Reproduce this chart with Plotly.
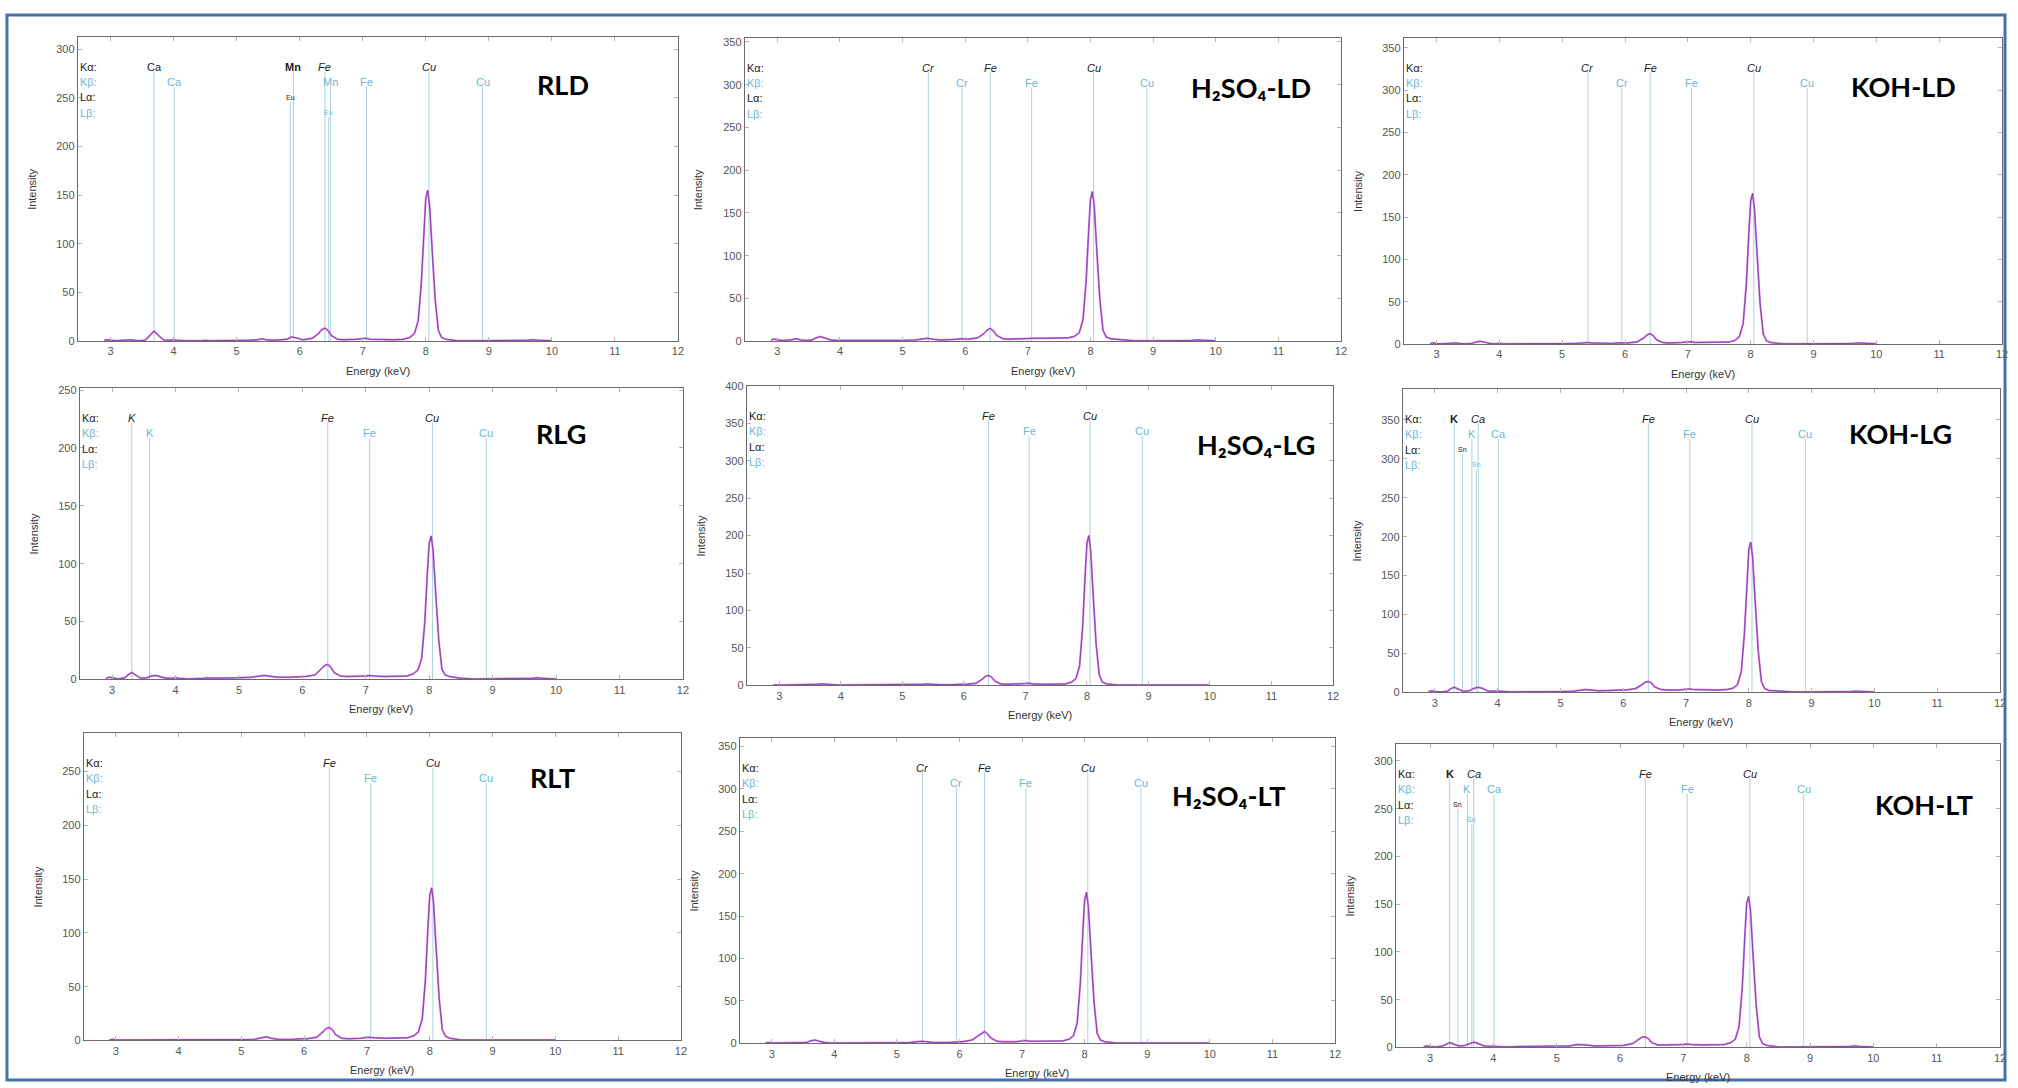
import plotly.graph_objects as go

W, H = 2018, 1088
FONT = "Liberation Sans, Arial, sans-serif"
NAME_FONT = "Lato, Noto Sans, sans-serif"

# ---------------- data ----------------
ENERGY = [2.90, 2.95, 3.00, 3.10, 3.20, 3.25, 3.31, 3.37, 3.45, 3.55,
          3.62, 3.69, 3.76, 3.85, 3.95, 4.00, 4.05, 4.20, 4.45, 4.50,
          4.55, 4.80, 5.00, 5.20, 5.33, 5.40, 5.47, 5.60, 5.80, 5.87,
          5.94, 6.05, 6.20, 6.30, 6.35, 6.40, 6.45, 6.50, 6.60, 6.70,
          6.90, 7.00, 7.05, 7.12, 7.30, 7.50, 7.65, 7.75, 7.82, 7.88,
          7.93, 7.97, 8.00, 8.03, 8.06, 8.10, 8.15, 8.20, 8.25, 8.32,
          8.40, 8.50, 8.70, 9.00, 9.50, 9.62, 9.70, 9.78, 10.00]

RLD = [1, 1.5, 1, 0.5, 1, 1.5, 1.5, 1, 0.5, 1,
       6, 10.5, 6, 1, 1, 1.5, 1, 0.5, 0.5, 1,
       0.5, 0.5, 1, 1, 1.5, 2.5, 1.5, 1, 2, 4.5,
       3.5, 1.5, 3, 8, 12, 13.5, 11, 6, 2, 1.5,
       2, 3, 3, 2, 1.5, 1.5, 2, 4, 8, 21,
       61, 114, 147, 155, 140, 95, 42, 11, 4, 2,
       1.5, 0.5, 0.5, 0.5, 0.5, 1, 1.5, 1, 0.5]
H2SO4_LD = [1.5, 2.5, 1.5, 1, 1.5, 2.5, 3, 1.5, 1, 1.5,
            4, 5.5, 4, 1.5, 1, 1, 1, 0.5, 1, 1,
            1, 1, 1, 1.5, 2.5, 3.5, 2.5, 1.5, 2, 2.5,
            3, 2.5, 4, 9, 13, 15, 12, 7, 3, 2.5,
            3, 4, 4, 3.5, 3.5, 3.5, 4, 6, 10, 25,
            70, 128, 166, 175, 158, 107, 48, 13, 5, 3,
            2.5, 1, 0.5, 0.5, 0.5, 1, 1.5, 1, 0.5]
KOH_LD = [1, 1.5, 1, 0.5, 1, 1.5, 1.5, 1, 0.5, 1,
          2.5, 3.5, 2.5, 1, 0.5, 1, 0.5, 0.5, 0.5, 0.5,
          0.5, 0.5, 1, 1, 1.5, 2, 1.5, 1, 1, 1.5,
          1.5, 1.5, 3, 7.5, 11, 12.5, 10, 5.5, 2, 1.5,
          2, 3, 3, 2, 2, 2, 2.5, 4.5, 9, 24,
          70, 130, 169, 178, 160, 109, 48, 12, 4, 2,
          1.5, 0.5, 0.5, 0.5, 0.5, 1, 1.5, 1, 0.5]
RLG = [1, 2, 1.5, 0.5, 1.5, 4, 6, 4, 1, 1.5,
       3, 3.5, 2.5, 1, 1, 1.5, 1, 0.5, 1, 1.5,
       1, 1, 1.5, 2, 3, 3.5, 3, 2, 2, 2,
       2, 2.5, 4, 9, 12, 13, 10.5, 6, 3, 2.5,
       2.5, 3, 3.5, 3, 2.5, 2.5, 3, 5, 8, 18,
       50, 92, 118, 124, 112, 76, 34, 9, 4, 2.5,
       2, 1, 0.5, 0.5, 0.5, 1, 1.5, 1, 0.5]
H2SO4_LG = [0.5, 1, 0.5, 0.5, 0.5, 0.5, 0.5, 0.5, 0.5, 0.5,
            1.5, 2, 1.5, 0.5, 0.5, 0.5, 0.5, 0.5, 0.5, 1,
            0.5, 0.5, 0.5, 1, 1.5, 2, 1.5, 1, 1, 1.5,
            1.5, 1.5, 3, 8.5, 12, 13.5, 11, 6, 2, 1.5,
            1.5, 2.5, 3, 2, 1.5, 1.5, 2, 4.5, 9, 26,
            78, 146, 190, 200, 180, 122, 54, 14, 4.5, 2,
            1.5, 0.5, 0.5, 0.5, 0.5, 0.5, 1, 0.5, 0.5]
KOH_LG = [1, 2, 1, 0.5, 1.5, 4.5, 6.5, 4.5, 1.5, 2,
          5, 6.5, 5, 1.5, 1.5, 2, 1.5, 0.5, 0.5, 1,
          0.5, 0.5, 1, 1.5, 3, 3.5, 3, 2, 2.5, 3,
          3, 3, 5, 10, 13, 14, 12, 7, 3.5, 3,
          3, 4, 4.5, 3.5, 3, 3, 3.5, 5.5, 10, 27,
          76, 141, 184, 193, 174, 118, 53, 14, 5, 2.5,
          2, 1, 0.5, 0.5, 0.5, 1, 1.5, 1, 0.5]
RLT = [0.5, 1, 0.5, 0.5, 0.5, 0.5, 0.5, 0.5, 0.5, 0.5,
       0.5, 1, 0.5, 0.5, 0.5, 0.5, 0.5, 0.5, 0.5, 0.5,
       0.5, 0.5, 0.5, 1, 2.5, 3.5, 2, 1, 1, 1.5,
       1.5, 1.5, 3, 8, 11, 12, 10, 5.5, 2, 1.5,
       2, 3, 3, 2.5, 2, 2, 2.5, 4.5, 8, 20,
       56, 104, 135, 142, 128, 87, 39, 10, 4, 2,
       1.5, 0.5, 0.5, 0.5, 0.5, 0.5, 1, 0.5, 0.5]
H2SO4_LT = [0.5, 1, 0.5, 0.5, 0.5, 0.5, 0.5, 0.5, 0.5, 1,
            3, 4, 2.5, 1, 0.5, 0.5, 0.5, 0.5, 0.5, 0.5,
            0.5, 0.5, 1, 1, 2, 2.5, 2, 1, 1, 1.5,
            2, 2, 4, 9, 12.5, 14, 11, 6.5, 2.5, 2,
            2, 3, 3.5, 2.5, 2.5, 2.5, 3, 5, 9, 24,
            70, 130, 169, 178, 160, 109, 48, 12, 4, 2,
            1.5, 0.5, 0.5, 0.5, 0.5, 0.5, 1, 0.5, 0.5]
KOH_LT = [1, 1.5, 1, 0.5, 1.5, 3.5, 5, 3.5, 1.5, 2,
          4, 5.5, 4, 1.5, 1, 1.5, 1, 0.5, 1, 1,
          1, 1, 1, 1.5, 3, 3, 2.5, 1.5, 1.5, 2,
          2, 2, 4, 9, 11, 11, 9, 5, 2.5, 2.5,
          2.5, 3, 3.5, 3, 2.5, 2.5, 3, 5, 8.5, 22,
          63, 116, 151, 158, 143, 97, 44, 11, 4, 2,
          1.5, 0.5, 0.5, 0.5, 0.5, 1, 1.5, 1, 0.5]

PANEL_NAMES = ["RLD", "H₂SO₄-LD", "KOH-LD",
               "RLG", "H₂SO₄-LG", "KOH-LG",
               "RLT", "H₂SO₄-LT", "KOH-LT"]
SPECTRA = [RLD, H2SO4_LD, KOH_LD, RLG, H2SO4_LG, KOH_LG, RLT, H2SO4_LT, KOH_LT]
Y_MAX = [313, 355, 362, 252, 400, 390, 286, 360, 318]
X_MIN = [2.48, 2.48, 2.48, 2.49, 2.47, 2.49, 2.49, 2.49, 2.46]
X_MAX = 12

ROW_LABELS = ["Kα:", "Kβ:", "Lα:", "Lβ:"]

# element markers: (energy keV, row 0=Kα 1=Kβ 2=Lα 3=Lβ, label, style)
EL_RLD = [(3.69, 0, "Ca", "r"), (5.90, 0, "Mn", "b"), (6.40, 0, "Fe", "i"), (8.05, 0, "Cu", "i"),
          (4.01, 1, "Ca", "r"), (6.49, 1, "Mn", "r"), (7.06, 1, "Fe", "r"), (8.90, 1, "Cu", "r"),
          (5.85, 2, "Eu", "s"), (6.46, 3, "Eu", "s")]
EL_CR_FE_CU = [(5.41, 0, "Cr", "i"), (6.40, 0, "Fe", "i"), (8.05, 0, "Cu", "i"),
               (5.95, 1, "Cr", "r"), (7.06, 1, "Fe", "r"), (8.90, 1, "Cu", "r")]
EL_RLG = [(3.31, 0, "K", "i"), (6.40, 0, "Fe", "i"), (8.05, 0, "Cu", "i"),
          (3.59, 1, "K", "r"), (7.06, 1, "Fe", "r"), (8.90, 1, "Cu", "r")]
EL_FE_CU = [(6.40, 0, "Fe", "i"), (8.05, 0, "Cu", "i"),
            (7.06, 1, "Fe", "r"), (8.90, 1, "Cu", "r")]
EL_KOH = [(3.31, 0, "K", "b"), (3.69, 0, "Ca", "i"), (6.40, 0, "Fe", "i"), (8.05, 0, "Cu", "i"),
          (3.59, 1, "K", "r"), (4.01, 1, "Ca", "r"), (7.06, 1, "Fe", "r"), (8.90, 1, "Cu", "r"),
          (3.44, 2, "Sn", "s"), (3.66, 3, "Sn", "s")]
ELEMENTS = [EL_RLD, EL_CR_FE_CU, EL_CR_FE_CU, EL_RLG, EL_FE_CU, EL_KOH,
            EL_FE_CU, EL_CR_FE_CU, EL_KOH]

# ---------------- layout geometry (pixels: left, right, top, bottom) ----------------
BOX = [(78, 680, 31, 339), (747, 1345, 32, 339), (1408, 2008, 32, 342),
       (80, 685, 386, 681), (749, 1337, 384, 687), (1407, 2006, 387, 694),
       (84, 683, 735, 1046), (742, 1339, 740, 1049), (1400, 2006, 746, 1053)]
NAME_POS = [(565, 79), (1255, 82), (1909, 81),
            (563, 432), (1260, 443), (1906, 432),
            (554, 780), (1232, 798), (1930, 807)]
ROW_OFF = [30.5, 46, 61.5, 77]

DARK = "#1a1a1a"
BLUE = "#6cb6d4"
LINE_BLUE = "#a9d3de"

fig = go.Figure()
annotations = []
shapes = []

for i in range(9):
    L, R, T, B = BOX[i]
    n = i + 1
    xs = "" if n == 1 else str(n)
    ph = B - T
    fig.add_trace(go.Scatter(x=ENERGY, y=SPECTRA[i], mode="lines",
                             line=dict(color="#d27cea", width=2.0),
                             xaxis="x" + xs, yaxis="y" + xs, showlegend=False, hoverinfo="skip"))
    fig.add_trace(go.Scatter(x=ENERGY, y=SPECTRA[i], mode="lines",
                             line=dict(color="#7a3598", width=0.8),
                             xaxis="x" + xs, yaxis="y" + xs, showlegend=False))
    axis_common = dict(ticks="inside", ticklen=4, tickcolor="#b5b5b5", showline=True,
                       linecolor="#6a6a6a", linewidth=1, mirror="allticks", showgrid=False,
                       zeroline=False, tickfont=dict(size=11, color="#555", family=FONT))
    fig.update_layout(**{
        "xaxis" + xs: dict(domain=[L / W, R / W], range=[X_MIN[i], X_MAX], anchor="y" + xs,
                           tick0=3, dtick=1, **axis_common),
        "yaxis" + xs: dict(domain=[1 - B / H, 1 - T / H], range=[0, Y_MAX[i]], anchor="x" + xs,
                           tick0=0, dtick=50, **axis_common),
    })
    xd = "x" + xs + " domain"
    yd = "y" + xs + " domain"
    # row legend
    for r, lab in enumerate(ROW_LABELS):
        annotations.append(dict(x=0, y=1 - ROW_OFF[r] / ph, xref=xd, yref=yd, text=lab,
                                showarrow=False, xanchor="left", yanchor="middle",
                                font=dict(size=11, family=FONT, color=DARK if r % 2 == 0 else BLUE)))
    # element lines and labels
    for (e, r, lab, st) in ELEMENTS[i]:
        top = 1 - (ROW_OFF[r] + 4.5) / ph
        shapes.append(dict(type="line", xref="x" + xs, yref=yd, x0=e, x1=e, y0=0, y1=top,
                           line=dict(color=LINE_BLUE, width=1), layer="below"))
        col = DARK if r % 2 == 0 else BLUE
        size = 11
        txt = lab
        if st == "i":
            txt = "<i>" + lab + "</i>"
        elif st == "b":
            txt = "<b>" + lab + "</b>"
        elif st == "s":
            size = 7
        annotations.append(dict(x=e, y=1 - ROW_OFF[r] / ph, xref="x" + xs, yref=yd, text=txt,
                                showarrow=False, xanchor="center", yanchor="middle",
                                font=dict(size=size, family=FONT, color=col)))
    # sample name
    nx, ny = NAME_POS[i]
    annotations.append(dict(x=nx / W, y=1 - ny / H, xref="paper", yref="paper",
                            text="<b>" + PANEL_NAMES[i] + "</b>", showarrow=False,
                            xanchor="center", yanchor="middle",
                            font=dict(size=27, family=NAME_FONT, color="#000")))
    # axis titles
    annotations.append(dict(x=0.5, y=1 - (B + 30) / H, xref=xd, yref="paper",
                            text="Energy (keV)", showarrow=False, xanchor="center", yanchor="middle",
                            font=dict(size=11, family=FONT, color="#333")))
    annotations.append(dict(x=(L - 46) / W, y=0.5, xref="paper", yref=yd,
                            text="Intensity", showarrow=False, xanchor="center", yanchor="middle",
                            textangle=-90, font=dict(size=11, family=FONT, color="#333")))

shapes.append(dict(type="rect", xref="paper", yref="paper", x0=7 / W, x1=2011 / W,
                   y0=1 - 1086 / H, y1=1 - 9 / H, line=dict(color="#4472a8", width=3)))

fig.update_layout(width=W, height=H, margin=dict(l=0, r=0, t=0, b=0),
                  paper_bgcolor="white", plot_bgcolor="white",
                  annotations=annotations, shapes=shapes, showlegend=False,
                  font=dict(family=FONT))

fig.write_html("out.html")
